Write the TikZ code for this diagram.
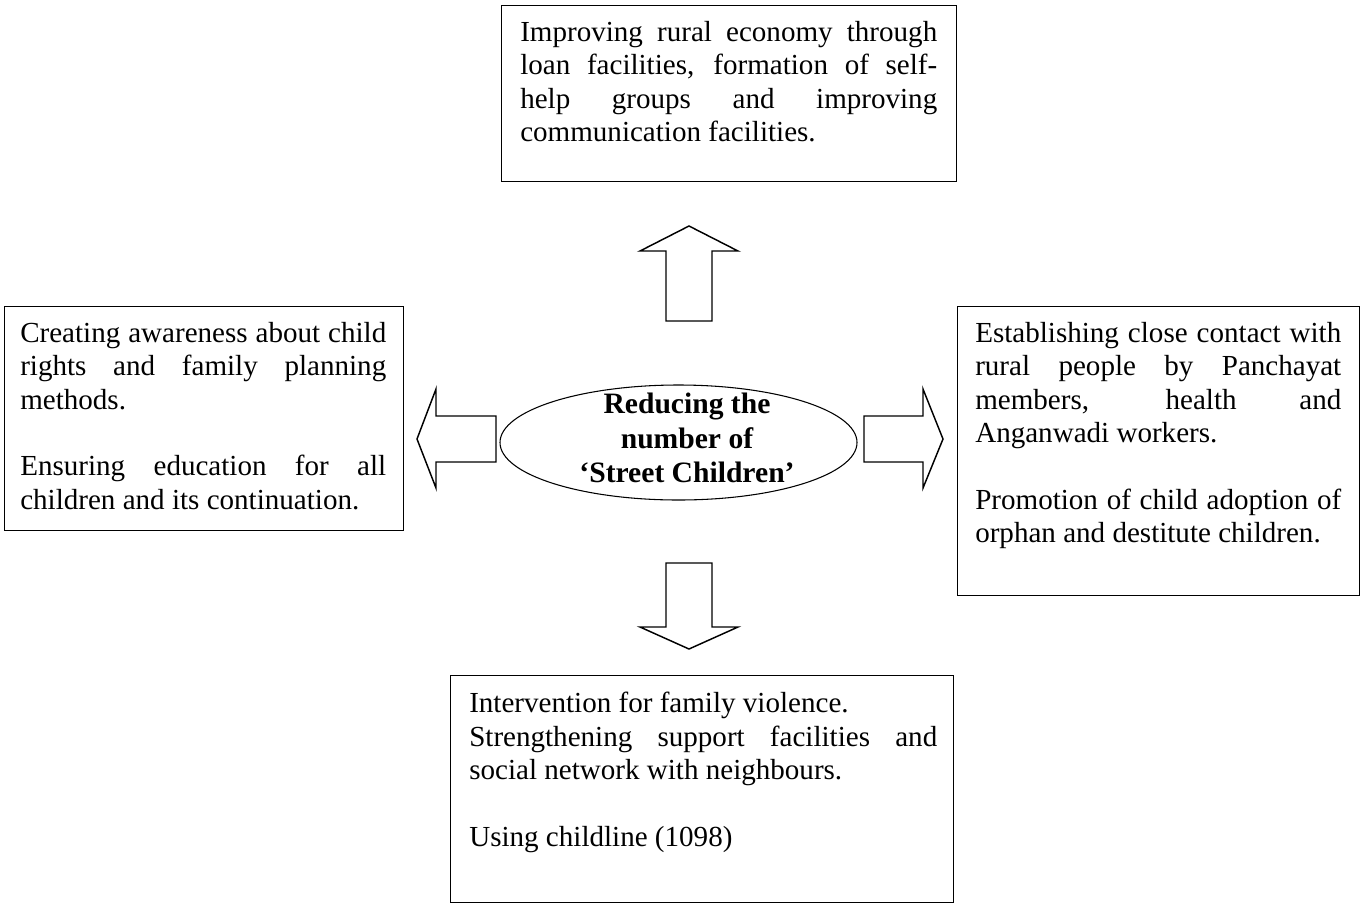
\documentclass[tikz,border=0pt]{standalone}
\usepackage{fontspec}
\setmainfont{Liberation Serif}
\usetikzlibrary{shapes.geometric}
\begin{document}
\begin{tikzpicture}[x=0.75pt,y=-0.75pt,
  box/.style={draw, line width=1.1pt, inner sep=0pt, anchor=north west},
  txt/.style={anchor=north west, inner sep=0pt, align=justify, font=\fontsize{21.8}{25}\selectfont},
  blk/.style={draw, line width=1.1pt, line join=miter, fill=white}]
\useasboundingbox (0,0) rectangle (1363,904);
% boxes
\node[box, minimum width=341.25pt, minimum height=132pt] (topbox) at (501,5) {};
\node[box, minimum width=299.25pt, minimum height=168pt] (leftbox) at (4,306) {};
\node[box, minimum width=301.5pt, minimum height=216.75pt] (rightbox) at (957,306) {};
\node[box, minimum width=377.25pt, minimum height=170.25pt] (botbox) at (450,675) {};
% texts
\node[txt, text width=312.75pt] (toptxt) at (520,21) {Improving rural economy through\linebreak loan facilities, formation of self-\linebreak help groups and improving\linebreak communication facilities.};
\node[txt, text width=274.5pt] (lefttxt) at (20,322) {Creating awareness about child\linebreak rights and family planning\linebreak methods.\\[25pt]Ensuring education for all\linebreak children and its continuation.};
\node[txt, text width=274.5pt] (righttxt) at (975,322) {Establishing close contact with\linebreak rural people by Panchayat\linebreak members, health and\linebreak Anganwadi workers.\\[25pt]Promotion of child adoption of\linebreak orphan and destitute children.};
\node[txt, text width=351pt] (bottxt) at (469,692) {Intervention for family violence.\\Strengthening support facilities and\linebreak social network with neighbours.\\[25pt]Using childline (1098)};
% centre
\node[draw, ellipse, line width=0.8pt, inner sep=0pt, minimum width=267.75pt, minimum height=86.25pt] (centre) at (678.5,442.5) {};
\node[align=center, inner sep=0pt, font=\bfseries\fontsize{22.2}{26}\selectfont] (centretxt) at (687,438) {Reducing the\\number of\\‘Street Children’};
% block arrows
\draw[blk] (666,321) -- (666,251) -- (640,251) -- (689,226) -- (738,251) -- (712,251) -- (712,321) -- cycle;
\draw[blk] (666,563) -- (666,627) -- (640,627) -- (689,649) -- (738,627) -- (712,627) -- (712,563) -- cycle;
\draw[blk] (496,416) -- (436,416) -- (436,389) -- (417,439) -- (436,488) -- (436,462) -- (496,462) -- cycle;
\draw[blk] (864,416) -- (923,416) -- (923,389) -- (943,439) -- (923,488) -- (923,462) -- (864,462) -- cycle;
\end{tikzpicture}
\end{document}
